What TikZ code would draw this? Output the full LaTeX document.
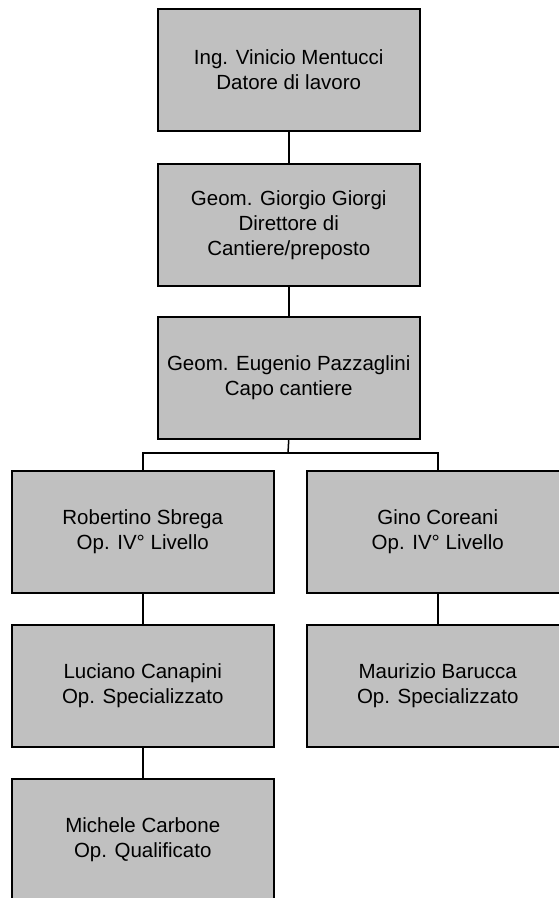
\documentclass[tikz,border=0pt]{standalone}
\usepackage{fontspec}
\setmainfont{Liberation Sans}
\definecolor{boxgray}{RGB}{192,192,192}
\begin{document}
\begin{tikzpicture}[x=1pt,y=1pt,
  box/.style={draw=black, fill=boxgray, line width=1.5pt, anchor=north west,
    minimum width=262pt, minimum height=122pt, inner sep=0pt, align=center,
    font=\fontsize{20.5}{25}\selectfont},
  link/.style={draw=black, line width=1.5pt}]
\useasboundingbox (0,0) rectangle (559,-898);
\clip (0,0) rectangle (559,-898);
\node[box] (b1) at (157,-8) {Ing. Vinicio Mentucci\\Datore di lavoro};
\node[box] (b2) at (157,-163) {Geom. Giorgio Giorgi\\Direttore di\\Cantiere/preposto};
\node[box] (b3) at (157,-316) {Geom. Eugenio Pazzaglini\\Capo cantiere};
\node[box] (b4) at (11,-470) {Robertino Sbrega\\Op. IV° Livello};
\node[box] (b5) at (306,-470) {Gino Coreani\\Op. IV° Livello};
\node[box] (b6) at (11,-624) {Luciano Canapini\\Op. Specializzato};
\node[box] (b7) at (306,-624) {Maurizio Barucca\\Op. Specializzato};
\node[box] (b8) at (11,-778) {Michele Carbone\\Op. Qualificato};
\coordinate (bar) at (288,-453);
\draw[link] (b1.south) -- (b2.north);
\draw[link] (b2.south) -- (b3.north);
\draw[link] (b3.south) -- (bar);
\draw[link] (b4.north) |- (bar) -| (b5.north);
\draw[link] (b4.south) -- (b6.north);
\draw[link] (b5.south) -- (b7.north);
\draw[link] (b6.south) -- (b8.north);
\end{tikzpicture}
\end{document}
